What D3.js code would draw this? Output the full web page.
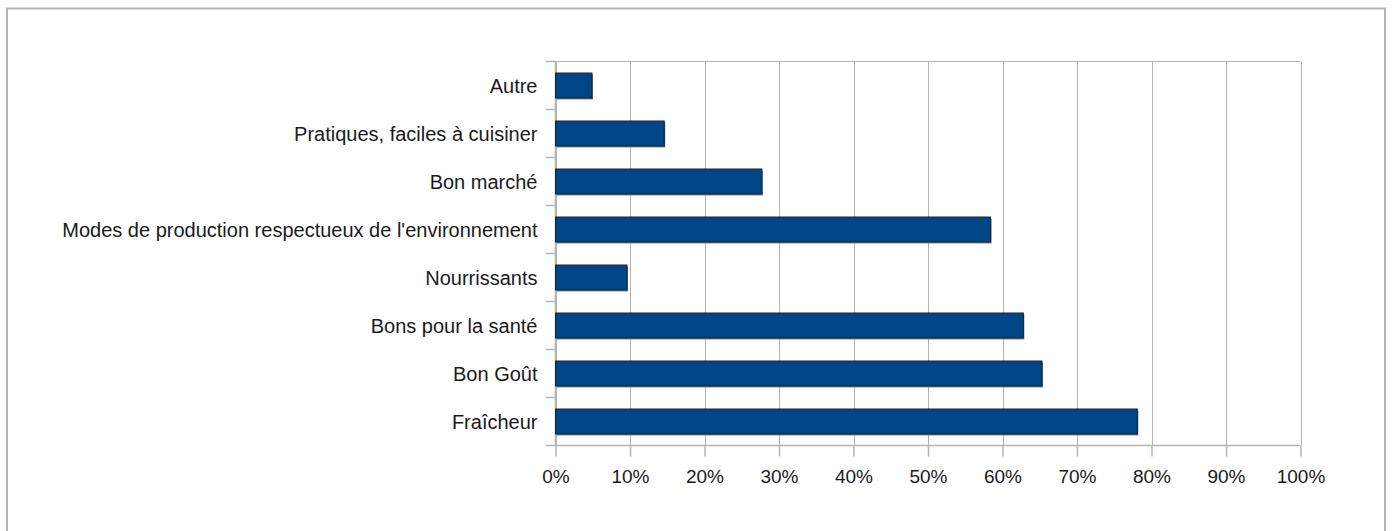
<!DOCTYPE html>
<html>
<head>
<meta charset="utf-8">
<script src="https://cdn.jsdelivr.net/npm/d3@7"></script>
<style>
  html, body { margin: 0; padding: 0; background: #ffffff; }
  svg { display: block; }
  text { font-family: "Liberation Sans", Arial, sans-serif; fill: #1a1a1a; }
</style>
</head>
<body>
<svg id="chart" width="1392" height="531"></svg>
<script>
// Reasons given for choosing the products (share of respondents)
const categories = [
  "Autre",
  "Pratiques, faciles à cuisiner",
  "Bon marché",
  "Modes de production respectueux de l'environnement",
  "Nourrissants",
  "Bons pour la santé",
  "Bon Goût",
  "Fraîcheur"
];
const values = [0.049, 0.146, 0.277, 0.584, 0.096, 0.628, 0.653, 0.781];
const tickValues = [0, 0.1, 0.2, 0.3, 0.4, 0.5, 0.6, 0.7, 0.8, 0.9, 1.0];

const svg = d3.select("#chart");
const plot = { left: 555.5, right: 1300.5, top: 61.5, bottom: 445.5 };
const gridColor = "#b3b3b3";

// Outer frame
svg.append("rect")
  .attr("x", 7).attr("y", 8.5)
  .attr("width", 1378).attr("height", 540)
  .attr("fill", "#ffffff")
  .attr("stroke", gridColor).attr("stroke-width", 2);

const x = d3.scaleLinear().domain([0, 1]).range([plot.left, plot.right]);
const y = d3.scaleBand().domain(categories)
  .range([plot.top, plot.bottom])
  .paddingInner(0.48).paddingOuter(0.24);

// Vertical gridlines
svg.append("g")
  .selectAll("line").data(tickValues).join("line")
  .attr("x1", d => Math.round(x(d)) + 0.5).attr("x2", d => Math.round(x(d)) + 0.5)
  .attr("y1", plot.top).attr("y2", plot.bottom)
  .attr("stroke", gridColor).attr("stroke-width", 1);

// Plot area top border
svg.append("line")
  .attr("x1", plot.left).attr("x2", plot.right)
  .attr("y1", plot.top).attr("y2", plot.top)
  .attr("stroke", gridColor);

// Bottom axis
const xAxis = d3.axisBottom(x)
  .tickValues(tickValues)
  .tickFormat(d3.format(".0%"))
  .tickSize(11).tickPadding(13);
const gx = svg.append("g")
  .attr("transform", `translate(0,${plot.bottom})`)
  .call(xAxis);
gx.select(".domain").remove();
gx.selectAll(".tick line").attr("stroke", gridColor).attr("stroke-width", 1.5);
gx.selectAll(".tick text")
  .attr("font-size", 19)
  .attr("font-family", "Liberation Sans, Arial, sans-serif")
  .attr("fill", "#1a1a1a");
gx.append("line")
  .attr("x1", plot.left - 10).attr("x2", plot.right)
  .attr("y1", 0).attr("y2", 0)
  .attr("stroke", gridColor).attr("stroke-width", 1.5);

// Left axis: line, boundary ticks between categories, labels
svg.append("line")
  .attr("x1", plot.left).attr("x2", plot.left)
  .attr("y1", plot.top).attr("y2", plot.bottom)
  .attr("stroke", gridColor).attr("stroke-width", 1.5);

const step = y.step();
const firstEdge = y(categories[0]) - y.paddingInner() * step / 2;
svg.append("g")
  .selectAll("line").data(d3.range(categories.length)).join("line")
  .attr("x1", plot.left - 10).attr("x2", plot.left)
  .attr("y1", i => firstEdge + i * step)
  .attr("y2", i => firstEdge + i * step)
  .attr("stroke", gridColor).attr("stroke-width", 1.5);

svg.append("g")
  .selectAll("text").data(categories).join("text")
  .attr("x", plot.left - 18)
  .attr("y", d => y(d) + y.bandwidth() / 2)
  .attr("dy", "0.35em")
  .attr("text-anchor", "end")
  .attr("font-size", 20)
  .text(d => d);

// Bars with a soft drop shadow
const rows = categories.map((c, i) => ({ c, v: values[i] }));
svg.append("g")
  .selectAll("rect").data(rows).join("rect")
  .attr("x", plot.left + 1)
  .attr("y", d => y(d.c) + 1.5)
  .attr("width", d => x(d.v) - plot.left)
  .attr("height", y.bandwidth())
  .attr("fill", "#7a7a7a");

svg.append("g")
  .selectAll("rect").data(rows).join("rect")
  .attr("x", plot.left)
  .attr("y", d => y(d.c))
  .attr("width", d => x(d.v) - plot.left)
  .attr("height", y.bandwidth())
  .attr("fill", "#004586")
  .attr("stroke", "#14243c")
  .attr("stroke-width", 1);
</script>
</body>
</html>
